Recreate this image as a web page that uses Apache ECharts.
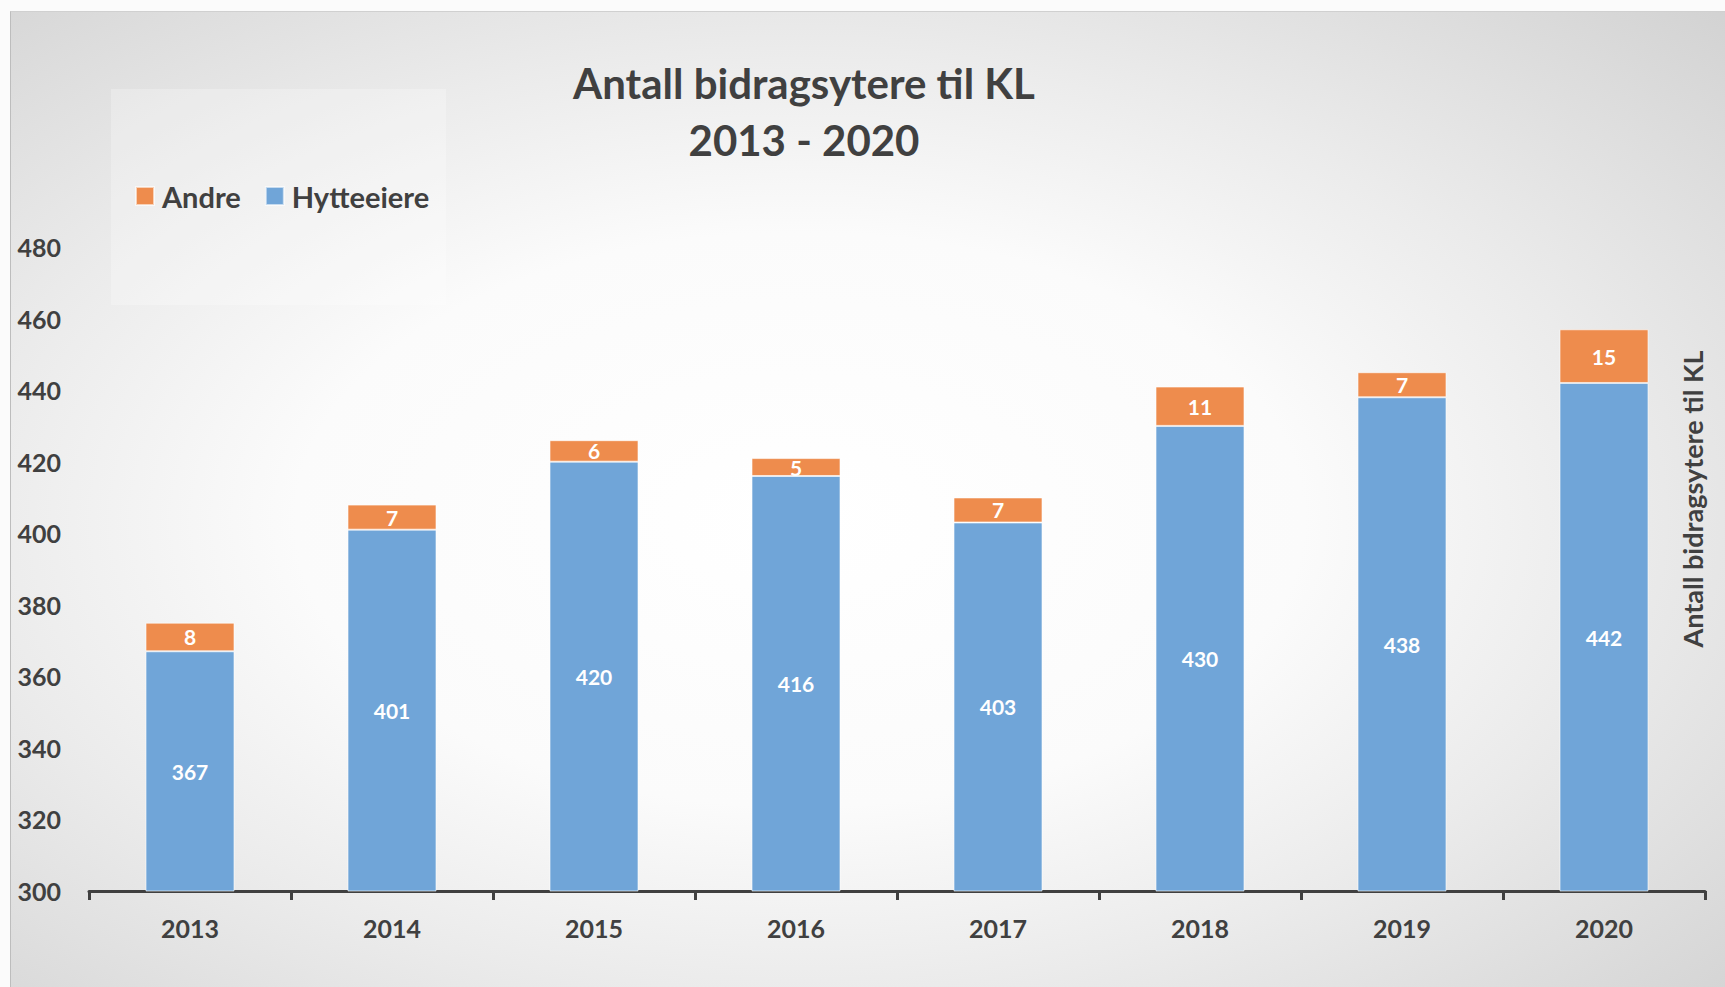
<!DOCTYPE html>
<html>
<head>
<meta charset="utf-8">
<script src="https://cdn.jsdelivr.net/npm/echarts@6/dist/echarts.min.js"></script>
<style>
  html, body { margin: 0; padding: 0; background: #fbfbfb; width: 1725px; height: 987px; overflow: hidden; }
  #chart { position: absolute; left: 10px; top: 11px; width: 1715px; height: 976px; border-left: 1px solid #bdbdbd; border-top: 1px solid #d0d0d0; box-sizing: border-box; }
</style>
</head>
<body>
<div id="chart"></div>
<script>
const years = ['2013', '2014', '2015', '2016', '2017', '2018', '2019', '2020'];
const hytteeiere = [367, 401, 420, 416, 403, 430, 438, 442];
const andre = [8, 7, 6, 5, 7, 11, 7, 15];
const seriesNames = ['Andre', 'Hytteeiere'];
const titleText = 'Antall bidragsytere til KL\n2013 - 2020';
const sideTitle = 'Antall bidragsytere til KL';
const yMin = 300, yMax = 480, yStep = 20;

const FONT = 'Lato, "Open Sans", sans-serif';
const DARK = '#404040';
const BLUE = '#70A5D8';
const ORANGE = '#EE8C4D';

const chart = echarts.init(document.getElementById('chart'), null, { renderer: 'svg' });

const labelStyle = {
  show: true,
  position: 'inside',
  color: '#ffffff',
  fontFamily: FONT,
  fontWeight: 'bold',
  fontSize: 21
};

chart.setOption({
  animation: false,
  graphic: [
    {
      type: 'rect', z: -10, silent: true,
      shape: { x: 0, y: 0, width: 1715, height: 976 },
      style: {
        fill: {
          type: 'radial', x: 0.46, y: 0.52, r: 1.05,
          colorStops: [
            { offset: 0, color: '#ffffff' },
            { offset: 0.28, color: '#fbfbfb' },
            { offset: 0.46, color: '#ebebeb' },
            { offset: 0.76, color: '#cecece' },
            { offset: 1, color: '#bfbfbf' }
          ]
        }
      }
    },
    {
      type: 'rect', z: -5, silent: true,
      shape: { x: 100, y: 77, width: 335, height: 216 },
      style: { fill: 'rgba(255,255,255,0.25)' }
    },
    {
      type: 'text', silent: true,
      x: 1681, y: 487, rotation: Math.PI / 2,
      style: {
        text: sideTitle,
        fill: DARK,
        font: 'bold 27px ' + FONT,
        align: 'center',
        verticalAlign: 'middle'
      }
    }
  ],
  title: {
    text: titleText,
    left: 793,
    top: 42,
    padding: 0,
    textAlign: 'center',
    textStyle: {
      fontFamily: FONT,
      fontWeight: 'bold',
      fontSize: 42,
      lineHeight: 57,
      color: DARK
    }
  },
  legend: {
    data: seriesNames,
    left: 124,
    top: 169,
    padding: 0,
    icon: 'rect',
    itemWidth: 18,
    itemHeight: 18,
    itemGap: 24,
    textStyle: {
      fontFamily: FONT,
      fontWeight: 'bold',
      fontSize: 29,
      lineHeight: 30,
      color: DARK,
      padding: [0, 0, 0, 3]
    }
  },
  grid: { left: 78, right: 20, top: 235, bottom: 96, containLabel: false },
  xAxis: {
    type: 'category',
    data: years,
    boundaryGap: true,
    axisLine: { show: true, lineStyle: { color: DARK, width: 3 } },
    axisTick: { show: true, length: 9, lineStyle: { color: DARK, width: 3 } },
    axisLabel: {
      margin: 24,
      color: DARK,
      fontFamily: FONT,
      fontWeight: 'bold',
      fontSize: 25
    },
    splitLine: { show: false }
  },
  yAxis: {
    type: 'value',
    min: yMin,
    max: yMax,
    interval: yStep,
    axisLine: { show: false },
    axisTick: { show: false },
    splitLine: { show: false },
    axisLabel: {
      margin: 28,
      color: DARK,
      fontFamily: FONT,
      fontWeight: 'bold',
      fontSize: 25
    }
  },
  series: [
    {
      name: 'Hytteeiere',
      type: 'bar',
      stack: 'total',
      barWidth: 89,
      clip: true,
      data: hytteeiere,
      itemStyle: { color: BLUE, borderColor: 'rgba(255,255,255,0.6)', borderWidth: 1 },
      label: labelStyle
    },
    {
      name: 'Andre',
      type: 'bar',
      stack: 'total',
      barWidth: 89,
      clip: true,
      data: andre,
      itemStyle: { color: ORANGE, borderColor: 'rgba(255,255,255,0.6)', borderWidth: 1 },
      label: labelStyle
    }
  ]
});
</script>
</body>
</html>
